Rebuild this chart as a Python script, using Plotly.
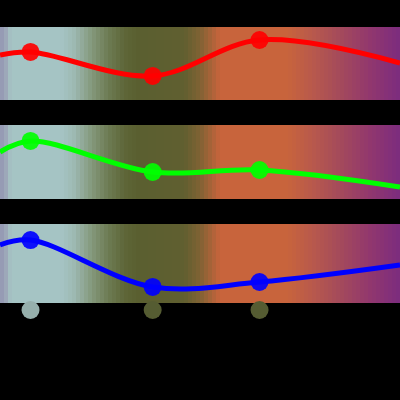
import numpy as np
import plotly.graph_objects as go

# x positions (edges + 3 marked points)
x_line = [0, 1, 5, 8.5, 13.1]
x_marks = [1, 5, 8.5]
x_range = [0, 13.1]

red_vals = [61.6, 65.8, 32.9, 82.2, 50.7]
green_vals = [63.5, 78.4, 36.5, 39.2, 16.2]
blue_vals = [73.4, 79.7, 20.3, 26.6, 48.1]

bottom_vals = [0.625, 0.625, 0.625]
bottom_colors = ["rgb(150,175,172)", "rgb(85,92,50)", "rgb(85,92,50)"]

# background gradient stops (fraction, colour)
grad_stops = [
    [0.0, "rgb(150,155,180)"],
    [0.012, "rgb(158,170,186)"],
    [0.022, "rgb(165,196,196)"],
    [0.15, "rgb(165,196,196)"],
    [0.18, "rgb(158,186,180)"],
    [0.23, "rgb(130,150,120)"],
    [0.27, "rgb(108,122,82)"],
    [0.31, "rgb(94,102,56)"],
    [0.34, "rgb(90,95,48)"],
    [0.46, "rgb(96,95,48)"],
    [0.5, "rgb(128,98,52)"],
    [0.55, "rgb(200,100,60)"],
    [0.72, "rgb(200,100,60)"],
    [0.78, "rgb(185,90,75)"],
    [0.85, "rgb(165,75,90)"],
    [0.93, "rgb(145,55,110)"],
    [1.0, "rgb(125,45,125)"],
]
n_stripes = 100

series = [("red", red_vals, "rgb(255,0,0)"),
          ("green", green_vals, "rgb(0,255,0)"),
          ("blue", blue_vals, "rgb(0,0,255)")]
domains = [[0.75, 0.9325], [0.5025, 0.6875], [0.2425, 0.44], [0.2, 0.24]]

fig = go.Figure()
dx = (x_range[1] - x_range[0]) / n_stripes
zrow = [list(np.linspace(0, 1, n_stripes))]

for i, (name, vals, col) in enumerate(series):
    xa = "x" if i == 0 else f"x{i+1}"
    ya = "y" if i == 0 else f"y{i+1}"
    fig.add_trace(go.Heatmap(z=zrow, x0=x_range[0] + dx / 2, dx=dx, y0=50, dy=100,
                             colorscale=grad_stops, showscale=False, zsmooth=False,
                             hoverinfo="skip", xaxis=xa, yaxis=ya))
    fig.add_trace(go.Scatter(x=x_line, y=vals, mode="lines",
                             line=dict(color=col, width=5, shape="spline"),
                             showlegend=False, xaxis=xa, yaxis=ya))
    mvals = vals[1:4]
    fig.add_trace(go.Scatter(x=x_marks, y=mvals, mode="markers",
                             marker=dict(color=col, size=18, opacity=0.92),
                             showlegend=False, xaxis=xa, yaxis=ya))

fig.add_trace(go.Scatter(x=x_marks, y=bottom_vals, mode="markers",
                         marker=dict(color=bottom_colors, size=18),
                         cliponaxis=False, showlegend=False,
                         xaxis="x4", yaxis="y4"))

layout = dict(width=400, height=400, paper_bgcolor="black", plot_bgcolor="rgba(0,0,0,0)",
              margin=dict(l=0, r=0, t=0, b=0), showlegend=False)
for i in range(4):
    sx = "" if i == 0 else str(i + 1)
    layout[f"xaxis{sx}"] = dict(range=x_range, domain=[0, 1], visible=False,
                                anchor=f"y{sx}", fixedrange=True)
    layout[f"yaxis{sx}"] = dict(range=[0, 100] if i < 3 else [0, 1],
                                domain=domains[i], visible=False,
                                anchor=f"x{sx}", fixedrange=True)
fig.update_layout(**layout)
fig.write_html("out.html", config={"displayModeBar": False},
               post_script="document.body.style.margin='0';document.body.style.background='black';document.body.style.overflow='hidden';")
